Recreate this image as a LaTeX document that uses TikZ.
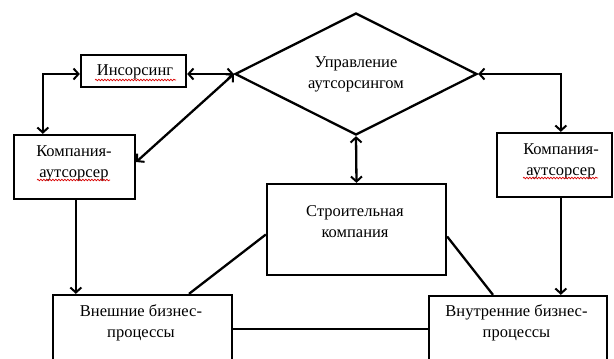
\documentclass[tikz,border=0pt]{standalone}
\usepackage{fontspec}
\setmainfont{Liberation Serif}
\newfontfamily\serf{Liberation Serif}
\usetikzlibrary{arrows.meta,shapes.geometric,calc,decorations.pathmorphing}
\begin{document}
\begin{tikzpicture}[x=1pt,y=-1pt,
  box/.style={draw,line width=2.3pt,inner sep=0pt},
  txt/.style={align=center,font=\serf\fontsize{16.5}{21}\selectfont,inner sep=0pt},
  con/.style={line width=2.3pt},
  arr/.style={con,-{Straight Barb[length=5pt,width=11pt,line width=2pt]}},
  darr/.style={con,{Straight Barb[length=5pt,width=11pt,line width=2pt]}-{Straight Barb[length=5pt,width=11pt,line width=2pt]}},
  spell/.style={red!85!black,line width=0.7pt,decorate,decoration={snake,amplitude=0.8pt,segment length=3pt}}
]
\useasboundingbox (0,0) rectangle (614,359);
\clip (0,0) rectangle (614,359);

% boxes
\node[box,minimum width=105pt,minimum height=32pt] (inso) at (133.5,71) {};
\node[txt] (insoT) at (135,72) {Инсорсинг};
\node[box,diamond,aspect=2,minimum width=242pt,minimum height=122pt,txt] (diam) at (356,74) {Управление\\аутсорсингом};
\node[box,minimum width=121pt,minimum height=64pt] (lcomp) at (74.5,167) {};
\node[txt] (lcompT) at (74,163) {Компания-\\аутсорсер};
\node[box,minimum width=115pt,minimum height=64pt] (rcomp) at (554.5,165) {};
\node[txt] (rcompT) at (561,161) {Компания-\\аутсорсер};
\node[box,minimum width=179pt,minimum height=91pt] (stroi) at (356.5,229.5) {};
\node[txt] (stroiT) at (355,221.5) {Строительная\\компания};
\node[box,minimum width=179pt,minimum height=68pt] (vnesh) at (142.5,329) {};
\node[txt] (vneshT) at (141,322.5) {Внешние бизнес-\\процессы};
\node[box,minimum width=178pt,minimum height=66pt] (vnutr) at (518,329) {};
\node[txt] (vnutrT) at (516.5,322.5) {Внутренние бизнес-\\процессы};

% spell-check underlines
\draw[spell] ($(insoT.center)+(-40,8)$) -- ($(insoT.center)+(41,8)$);
\draw[spell] ($(lcompT.center)+(-37,17)$) -- ($(lcompT.center)+(36,17)$);
\draw[spell] ($(rcompT.center)+(-38,17)$) -- ($(rcompT.center)+(37,17)$);

% connectors
\draw[darr] (inso.east |- diam.west) -- (diam.west);
\draw[darr] (inso.west |- diam.west) -| ($(lcomp.north west)+(30,0)$);
\draw[darr] (diam.west) -- ($(lcomp.east)+(0,-5)$);
\draw[darr] (diam.east) -| ($(rcomp.north west)+(65,0)$);
\draw[darr] (diam.south) -- (stroi.north);
\coordinate (a1) at ($(lcomp.south west)+(63,0)$);
\draw[arr] (a1) -- (a1 |- vnesh.north);
\coordinate (a2) at ($(rcomp.south west)+(65,0)$);
\draw[arr] (a2) -- (a2 |- vnutr.north);
\draw[con] ($(stroi.west)+(0,5)$) -- ($(vnesh.north)+(46.5,0)$);
\draw[con] ($(stroi.east)+(0,7)$) -- ($(vnutr.north)+(-25,0)$);
\draw[con] (vnesh.east) -- (vnutr.west);
\end{tikzpicture}
\end{document}
